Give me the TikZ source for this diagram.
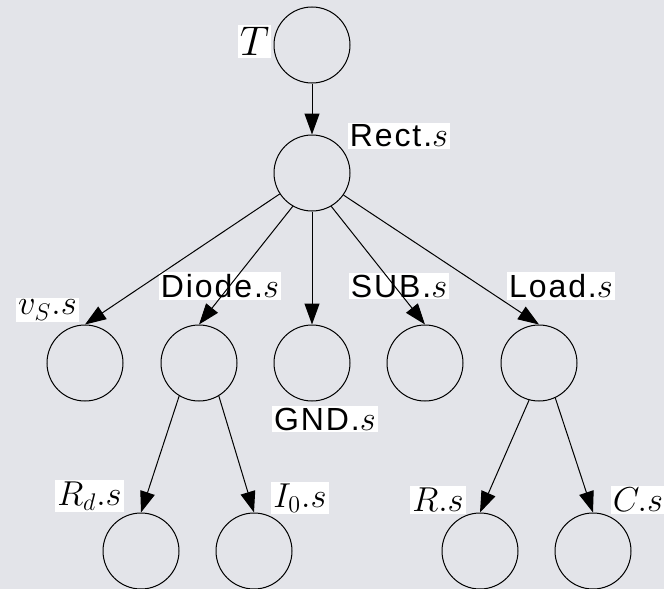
\documentclass[tikz,border=0pt]{standalone}
\usepackage{fontspec}
\setsansfont[LetterSpace=6]{Liberation Sans}
\usepackage{tikz}
\usetikzlibrary{arrows.meta,positioning}
\definecolor{bggray}{RGB}{227,228,233}
\tikzset{every picture/.style={line width=0.5pt}}
\tikzstyle{blk}=[circle,draw,minimum size=38pt,inner sep=0pt]
\tikzstyle{lbl}=[fill=white,inner sep=1pt,font=\sffamily\fontsize{16}{18}\selectfont]
\tikzstyle{mlbl}=[fill=white,inner sep=1pt,font=\fontsize{16.5}{18}\selectfont]

\begin{document}
\begin{tikzpicture}[x=0.5pt,y=-0.5pt]
\fill[bggray] (0,0) rectangle (664,589);
\useasboundingbox (0,0) rectangle (664,589);
% blocks
\node[blk] (T) at (312,45) {};
\node[blk] (Rect) at (312,173) {};
\node[blk] (vs) at (85,363) {};
\node[blk] (Diode) at (199,363) {};
\node[blk] (GND) at (312,363) {};
\node[blk] (SUB) at (425,363) {};
\node[blk] (Load) at (539,363) {};
\node[blk] (Rd) at (141,551) {};
\node[blk] (I0) at (254,551) {};
\node[blk] (R) at (480,551) {};
\node[blk] (C) at (593,551) {};
% labels
\node[mlbl,font=\fontsize{21}{24}\selectfont] (TL) at (254.5,41.5) {$T$};
\node[lbl] (RectL) at (399,136) {Rect.$s$};
\node[mlbl] (vsL) at (47.5,310) {$v_S.s$};
\node[lbl] (DiodeL) at (220,286) {Diode.$s$};
\node[lbl] (GNDL) at (325,419) {GND.$s$};
\node[lbl] (SUBL) at (399,286) {SUB.$s$};
\node[lbl] (LoadL) at (561,286) {Load.$s$};
\node[mlbl] (RdL) at (89.5,496) {$R_d.s$};
\node[mlbl] (I0L) at (300,498) {$I_0.s$};
\node[mlbl] (RL) at (438,500) {$R.s$};
\node[mlbl] (CL) at (638,500) {$C.s$};
\path[->,>={Triangle[length=10.5pt,width=7.5pt]}]
(T) edge (Rect.north)
(Rect.-147) edge (vs.north)
(Rect.-120) edge (Diode.north)
(Rect.south) edge (GND.north)
(Rect.-60) edge (SUB.north)
(Rect.-35) edge (Load.north)
(Diode.-121) edge (Rd.north)
(Diode.-59) edge (I0.north)
(Load.-105) edge (R.north)
(Load.-65) edge (C.north);
\end{tikzpicture}
\end{document}
